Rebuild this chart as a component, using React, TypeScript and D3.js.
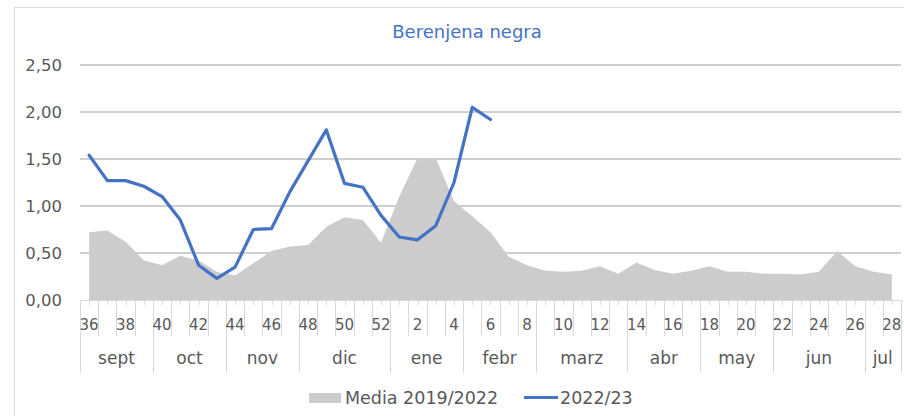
import { useEffect, useRef } from "react";
import * as d3 from "d3";

const weeks = [
  36, 37, 38, 39, 40, 41, 42, 43, 44, 45, 46, 47, 48, 49, 50, 51, 52,
  1, 2, 3, 4, 5, 6, 7, 8, 9, 10, 11, 12, 13, 14, 15, 16, 17, 18, 19, 20,
  21, 22, 23, 24, 25, 26, 27, 28,
];

// month name + number of weeks in it
const months = [
  ["sept", 4], ["oct", 4], ["nov", 4], ["dic", 5], ["ene", 4], ["febr", 4],
  ["marz", 5], ["abr", 4], ["may", 4], ["jun", 5], ["jul", 2],
] as [string, number][];

const media = [
  0.72, 0.74, 0.62, 0.42, 0.37, 0.47, 0.42, 0.30, 0.26, 0.39, 0.52, 0.57,
  0.585, 0.78, 0.88, 0.85, 0.61, 1.10, 1.51, 1.51, 1.05, 0.89, 0.72, 0.46,
  0.37, 0.31, 0.30, 0.31, 0.36, 0.28, 0.40, 0.32, 0.28, 0.31, 0.36, 0.30,
  0.30, 0.28, 0.28, 0.27, 0.30, 0.52, 0.36, 0.30, 0.27,
];

const season = [
  1.54, 1.27, 1.27, 1.21, 1.10, 0.85, 0.37, 0.23, 0.35, 0.75, 0.76, 1.15,
  1.48, 1.81, 1.24, 1.20, 0.90, 0.67, 0.64, 0.79, 1.25, 2.05, 1.92,
];

const yTicks = [0, 0.5, 1, 1.5, 2, 2.5];

const W = 904;
const H = 416;
const FONT = "'DejaVu Sans', 'Noto Sans', sans-serif";
const TXT = "#595959";

const App = () => {
  const svgRef = useRef<SVGSVGElement>(null);

  useEffect(() => {
    const svg = d3.select(svgRef.current);
    svg.selectAll("*").remove();

    const x = d3
      .scaleBand<number>()
      .domain(d3.range(weeks.length))
      .range([80, 901])
      .padding(0);
    const y = d3.scaleLinear().domain([0, 2.5]).range([300, 65]);
    const cx = (i: number) => (x(i) as number) + x.bandwidth() / 2;

    // chart frame
    svg
      .append("rect")
      .attr("x", 14.5)
      .attr("y", 7.5)
      .attr("width", 1000)
      .attr("height", 1000)
      .attr("fill", "#fff")
      .attr("stroke", "#d9d9d9");

    svg
      .append("text")
      .attr("x", 467)
      .attr("y", 38)
      .attr("text-anchor", "middle")
      .attr("fill", "#4472c4")
      .style("font-family", FONT)
      .style("font-size", "18px")
      .text("Berenjena negra");

    // gridlines + y labels
    svg
      .append("g")
      .selectAll("line")
      .data(yTicks.filter((d) => d > 0))
      .join("line")
      .attr("x1", 80)
      .attr("x2", 901)
      .attr("y1", (d) => y(d))
      .attr("y2", (d) => y(d))
      .attr("stroke", "#bfbfbf")
      .attr("stroke-width", 1.3);

    svg
      .append("g")
      .selectAll("text")
      .data(yTicks)
      .join("text")
      .attr("x", 62)
      .attr("y", (d) => y(d))
      .attr("dy", "0.36em")
      .attr("text-anchor", "end")
      .attr("fill", TXT)
      .style("font-family", FONT)
      .style("font-size", "16.5px")
      .text((d) => d3.format(".2f")(d).replace(".", ","));

    // media area
    const area = d3
      .area<number>()
      .x((_, i) => cx(i))
      .y0(y(0))
      .y1((d) => y(d));
    svg.append("path").datum(media).attr("d", area).attr("fill", "#cccccc");

    // x axis
    const ax = svg.append("g").attr("stroke", "#d9d9d9").attr("stroke-width", 1);
    ax.append("line").attr("x1", 80).attr("x2", 901).attr("y1", 300.5).attr("y2", 300.5);
    ax.selectAll("line.c")
      .data(d3.range(weeks.length))
      .join("line")
      .attr("class", "c")
      .attr("x1", (i) => Math.round(cx(i)) + 0.5)
      .attr("x2", (i) => Math.round(cx(i)) + 0.5)
      .attr("y1", 300)
      .attr("y2", 305);
    ax.selectAll("line.b")
      .data(d3.range(weeks.length + 1))
      .join("line")
      .attr("class", "b")
      .attr("x1", (i) => Math.round(80 + i * x.bandwidth()) + 0.5)
      .attr("x2", (i) => Math.round(80 + i * x.bandwidth()) + 0.5)
      .attr("y1", 300)
      .attr("y2", 336);

    let acc = 0;
    const monthPos = months.map(([name, n]) => {
      const s = acc;
      acc += n;
      return { name, s, e: acc };
    });
    ax.selectAll("line.m")
      .data([0, ...monthPos.map((m) => m.e)])
      .join("line")
      .attr("class", "m")
      .attr("x1", (i) => Math.round(80 + i * x.bandwidth()) + 0.5)
      .attr("x2", (i) => Math.round(80 + i * x.bandwidth()) + 0.5)
      .attr("y1", 300)
      .attr("y2", 373);

    svg
      .append("g")
      .selectAll("text")
      .data(weeks.map((w, i) => ({ w, i })).filter((d) => d.i % 2 === 0))
      .join("text")
      .attr("x", (d) => cx(d.i))
      .attr("y", 330)
      .attr("text-anchor", "middle")
      .attr("fill", TXT)
      .style("font-family", FONT)
      .style("font-size", "15px")
      .text((d) => d.w);

    svg
      .append("g")
      .selectAll("text")
      .data(monthPos)
      .join("text")
      .attr("x", (d) => 80 + ((d.s + d.e) / 2) * x.bandwidth())
      .attr("y", 364)
      .attr("text-anchor", "middle")
      .attr("fill", TXT)
      .style("font-family", FONT)
      .style("font-size", "17px")
      .text((d) => d.name);

    // 2022/23 line
    const line = d3
      .line<number>()
      .x((_, i) => cx(i))
      .y((d) => y(d));
    svg
      .append("path")
      .datum(season)
      .attr("d", line)
      .attr("fill", "none")
      .attr("stroke", "#4472c4")
      .attr("stroke-width", 3.2)
      .attr("stroke-linejoin", "round")
      .attr("stroke-linecap", "round");

    // legend
    const lg = svg.append("g").style("font-family", FONT).style("font-size", "17.5px");
    lg.append("rect").attr("x", 309).attr("y", 393).attr("width", 32).attr("height", 10).attr("fill", "#cccccc");
    lg.append("text").attr("x", 345).attr("y", 404).attr("fill", TXT).text("Media 2019/2022");
    lg.append("line")
      .attr("x1", 524)
      .attr("x2", 558)
      .attr("y1", 397.5)
      .attr("y2", 397.5)
      .attr("stroke", "#4472c4")
      .attr("stroke-width", 3);
    lg.append("text").attr("x", 560).attr("y", 404).attr("fill", TXT).text("2022/23");
  }, []);

  return (
    <svg
      ref={svgRef}
      width={W}
      height={H}
      style={{ position: "absolute", left: 0, top: 0 }}
    />
  );
};

export default App;
